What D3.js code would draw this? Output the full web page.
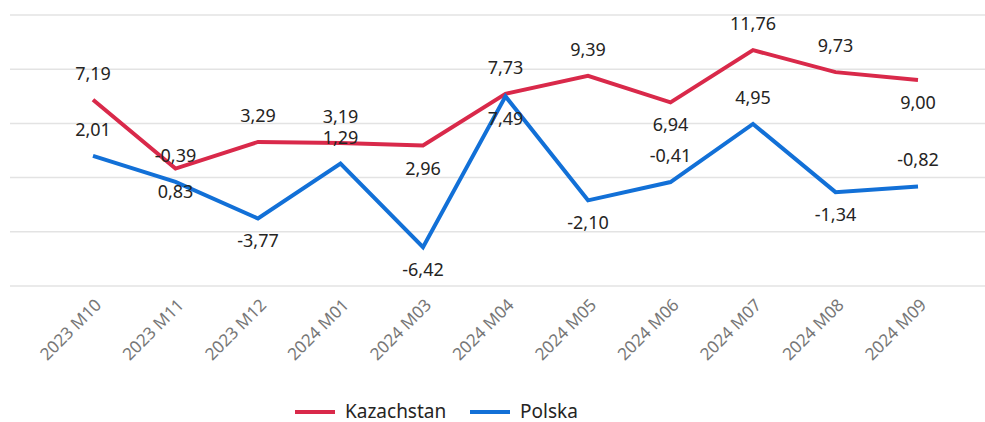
<!DOCTYPE html>
<html>
<head>
<meta charset="utf-8">
<script src="https://cdn.jsdelivr.net/npm/d3@7"></script>
<style>
  body { margin: 0; background: #fff; }
  text { font-family: "Segoe UI", "Noto Sans", sans-serif; }
</style>
</head>
<body>
<script>
// data
var categories = ["2023 M10", "2023 M11", "2023 M12", "2024 M01", "2024 M03", "2024 M04",
                  "2024 M05", "2024 M06", "2024 M07", "2024 M08", "2024 M09"];
var kazachstan = [7.19, 0.83, 3.29, 3.19, 2.96, 7.73, 9.39, 6.94, 11.76, 9.73, 9.00];
var polska = [2.01, -0.39, -3.77, 1.29, -6.42, 7.49, -2.10, -0.41, 4.95, -1.34, -0.82];
var gridValues = [-10, -5, 0, 5, 10, 15];

// label side per point (1 = above, -1 = below), as in the source chart
var kazSide = [1, -1, 1, 1, -1, 1, 1, -1, 1, 1, -1];
var polSide = [1, 1, -1, 1, -1, -1, -1, 1, 1, -1, 1];

var width = 985, height = 422;
var svg = d3.select("body").append("svg")
    .attr("width", width)
    .attr("height", height);

var x = d3.scalePoint().domain(categories).range([93, 918]);
var y = d3.scaleLinear().domain([-10, 15]).range([286, 15]);

// gridlines
svg.append("g").selectAll("line").data(gridValues).enter().append("line")
    .attr("x1", 10)
    .attr("x2", width)
    .attr("y1", function (d) { return y(d); })
    .attr("y2", function (d) { return y(d); })
    .attr("stroke", "#e3e3e3")
    .attr("stroke-width", 1.5);

// x axis labels
var xAxis = d3.axisBottom(x).tickSize(0).tickPadding(0);
var gx = svg.append("g").attr("transform", "translate(0,288)").call(xAxis);
gx.select(".domain").remove();
gx.selectAll("text")
    .attr("fill", "#777")
    .style("font-size", "17px")
    .attr("text-anchor", "end")
    .attr("dy", 0)
    .attr("transform", "translate(9,18) rotate(-45)");

var series = [
    { name: "Kazachstan", values: kazachstan, side: kazSide, color: "#d9294a" },
    { name: "Polska", values: polska, side: polSide, color: "#1270d7" }
];

var line = d3.line()
    .x(function (d, i) { return x(categories[i]); })
    .y(function (d) { return y(d); });

series.forEach(function (s) {
    svg.append("path")
        .datum(s.values)
        .attr("fill", "none")
        .attr("stroke", s.color)
        .attr("stroke-width", 4)
        .attr("stroke-linejoin", "miter")
        .attr("d", line);
});

// data labels
series.forEach(function (s) {
    svg.append("g").selectAll("text").data(s.values).enter().append("text")
        .attr("x", function (d, i) { return x(categories[i]); })
        .attr("y", function (d, i) { return y(d) + (s.side[i] > 0 ? -20 : 29); })
        .attr("text-anchor", "middle")
        .attr("fill", "#252423")
        .style("font-size", "18px")
        .text(function (d) { return d.toFixed(2).replace(".", ","); });
});

// legend
var legend = svg.append("g").attr("transform", "translate(295,412)");
var lx = [0, 175];
series.forEach(function (s, i) {
    var g = legend.append("g").attr("transform", "translate(" + lx[i] + ",0)");
    g.append("line")
        .attr("x1", 0).attr("x2", 40)
        .attr("y1", 0).attr("y2", 0)
        .attr("stroke", s.color)
        .attr("stroke-width", 4);
    g.append("text")
        .attr("x", 50)
        .attr("y", 6)
        .attr("fill", "#252423")
        .style("font-size", "19px")
        .text(s.name);
});
</script>
</body>
</html>
